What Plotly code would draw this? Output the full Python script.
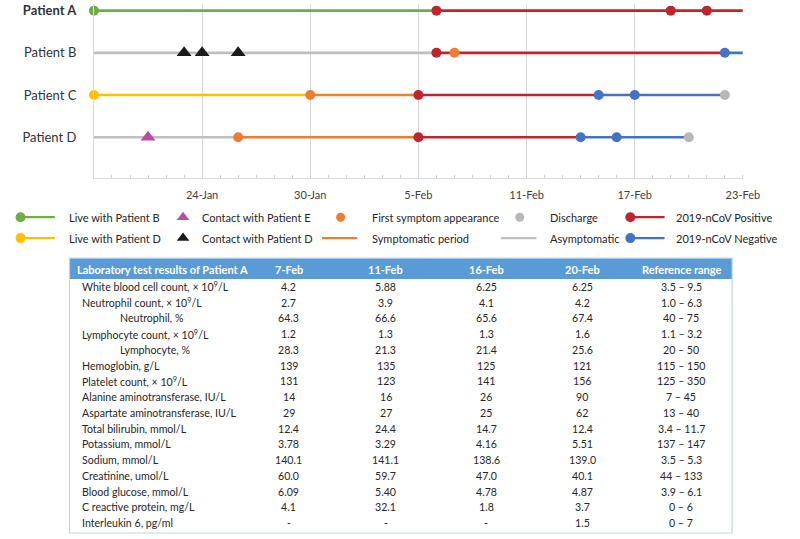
import plotly.graph_objects as go

# ---------------- timeline data ----------------
patients = ["Patient A", "Patient B", "Patient C", "Patient D"]
patient_labels = ["<b>Patient A</b>", "Patient B", "Patient C", "Patient D"]

seg_dates = {
    "Patient A": ["2020-01-18", "2020-02-06", "2020-02-23"],
    "Patient B": ["2020-01-18", "2020-02-06", "2020-02-22", "2020-02-23"],
    "Patient C": ["2020-01-18", "2020-01-30", "2020-02-05", "2020-02-15", "2020-02-22"],
    "Patient D": ["2020-01-18", "2020-01-26", "2020-02-05", "2020-02-14", "2020-02-20"],
}
seg_status = {
    "Patient A": ["liveB", "pos"],
    "Patient B": ["asym", "pos", "neg"],
    "Patient C": ["liveD", "symp", "pos", "neg"],
    "Patient D": ["asym", "symp", "pos", "neg"],
}
event_dates = {
    "Patient A": ["2020-01-18", "2020-02-06", "2020-02-19", "2020-02-21"],
    "Patient B": ["2020-01-23", "2020-01-24", "2020-01-26", "2020-02-06", "2020-02-07", "2020-02-22"],
    "Patient C": ["2020-01-18", "2020-01-30", "2020-02-05", "2020-02-15", "2020-02-17", "2020-02-22"],
    "Patient D": ["2020-01-21", "2020-01-26", "2020-02-05", "2020-02-14", "2020-02-16", "2020-02-20"],
}
event_types = {
    "Patient A": ["liveB", "pos", "pos", "pos"],
    "Patient B": ["contactD", "contactD", "contactD", "pos", "symp", "neg"],
    "Patient C": ["liveD", "symp", "pos", "neg", "neg", "discharge"],
    "Patient D": ["contactE", "symp", "pos", "neg", "neg", "discharge"],
}
tick_dates = ["2020-01-24", "2020-01-30", "2020-02-05", "2020-02-11", "2020-02-17", "2020-02-23"]
tick_labels = ["24-Jan", "30-Jan", "5-Feb", "11-Feb", "17-Feb", "23-Feb"]

legend_labels = ["Live with Patient B", "Live with Patient D",
                 "Contact with Patient E", "Contact with Patient D",
                 "First symptom appearance", "Symptomatic period",
                 "Discharge", "Asymptomatic",
                 "2019-nCoV Positive", "2019-nCoV Negative"]
legend_kinds = ["liveB", "liveD", "contactE", "contactD", "symp", "symp",
                "discharge", "asym", "pos", "neg"]

# ---------------- table data ----------------
table_title = "Laboratory test results of Patient A"
test_dates = ["7-Feb", "11-Feb", "16-Feb", "20-Feb"]
ref_title = "Reference range"
lab_tests = ["White blood cell count, × 10<sup>9</sup>/L", "Neutrophil count, × 10<sup>9</sup>/L",
             "Neutrophil, %", "Lymphocyte count, × 10<sup>9</sup>/L", "Lymphocyte, %",
             "Hemoglobin, g/L", "Platelet count, × 10<sup>9</sup>/L",
             "Alanine aminotransferase, IU/L", "Aspartate aminotransferase, IU/L",
             "Total bilirubin, mmol/L", "Potassium, mmol/L", "Sodium, mmol/L",
             "Creatinine, umol/L", "Blood glucose, mmol/L", "C reactive protein, mg/L",
             "Interleukin 6, pg/ml"]
sub_rows = ["Neutrophil, %", "Lymphocyte, %"]
feb7 = ["4.2", "2.7", "64.3", "1.2", "28.3", "139", "131", "14", "29", "12.4", "3.78", "140.1", "60.0", "6.09", "4.1", "-"]
feb11 = ["5.88", "3.9", "66.6", "1.3", "21.3", "135", "123", "16", "27", "24.4", "3.29", "141.1", "59.7", "5.40", "32.1", "-"]
feb16 = ["6.25", "4.1", "65.6", "1.3", "21.4", "125", "141", "26", "25", "14.7", "4.16", "138.6", "47.0", "4.78", "1.8", "-"]
feb20 = ["6.25", "4.2", "67.4", "1.6", "25.6", "121", "156", "90", "62", "12.4", "5.51", "139.0", "40.1", "4.87", "3.7", "1.5"]
ref_range = ["3.5 – 9.5", "1.0 – 6.3", "40 – 75", "1.1 – 3.2", "20 – 50", "115 – 150", "125 – 350",
             "7 – 45", "13 – 40", "3.4 – 11.7", "137 – 147", "3.5 – 5.3", "44 – 133", "3.9 – 6.1",
             "0 – 6", "0 – 7"]

# ---------------- styles ----------------
FONT = "Lato"
W, H = 800, 539
col = {"liveB": "#70AD47", "liveD": "#FFC000", "symp": "#ED7D31", "pos": "#C0252D",
       "neg": "#4472C4", "asym": "#BFBFBF", "discharge": "#B7B7B7",
       "contactD": "#1A1A1A", "contactE": "#B84DA6"}
sym = {"contactD": "triangle-up", "contactE": "triangle-up"}
ypos = {p: 4 - i for i, p in enumerate(patients)}


def px_x(v):
    return v / W


def px_y(v):
    return 1 - v / H


fig = go.Figure()

# segments
for p in patients:
    d = seg_dates[p]
    for i, s in enumerate(seg_status[p]):
        fig.add_trace(go.Scatter(x=[d[i], d[i + 1]], y=[ypos[p], ypos[p]], mode="lines",
                                 line=dict(color=col[s], width=2.6), hoverinfo="skip",
                                 showlegend=False, cliponaxis=False))
# events
for p in patients:
    for d, t in zip(event_dates[p], event_types[p]):
        tri = t in sym
        fig.add_trace(go.Scatter(x=[d], y=[ypos[p]], mode="markers",
                                 marker=dict(color=col[t], size=13 if tri else 10,
                                             symbol=sym.get(t, "circle"), line=dict(width=0)),
                                 showlegend=False, cliponaxis=False, hoverinfo="skip"))

# ---------------- custom legend (pixel axes x2/y2) ----------------
legend_cols_x = [18, 187, 329, 512, 641]
legend_rows_y = [216, 237]
legend_text_x = [68, 204, 378, 560, 689]
annotations = []
for i, (lab, kind) in enumerate(zip(legend_labels, legend_kinds)):
    c, r = divmod(i, 2)
    y = legend_rows_y[r]
    x0 = legend_cols_x[c]
    if c in (0, 4):  # line with dot at the left end
        fig.add_trace(go.Scatter(x=[x0, x0 + 38], y=[y, y], mode="lines", xaxis="x2", yaxis="y2",
                                 line=dict(color=col[kind], width=2.2), showlegend=False, hoverinfo="skip"))
        fig.add_trace(go.Scatter(x=[x0 + 3], y=[y], mode="markers", xaxis="x2", yaxis="y2",
                                 marker=dict(color=col[kind], size=10), showlegend=False, hoverinfo="skip"))
    elif c == 1:
        fig.add_trace(go.Scatter(x=[x0], y=[y], mode="markers", xaxis="x2", yaxis="y2",
                                 marker=dict(color=col[kind], size=11, symbol="triangle-up"),
                                 showlegend=False, hoverinfo="skip"))
    else:
        if r == 0:
            fig.add_trace(go.Scatter(x=[x0 + 19], y=[y], mode="markers", xaxis="x2", yaxis="y2",
                                     marker=dict(color=col[kind], size=9), showlegend=False, hoverinfo="skip"))
        else:
            fig.add_trace(go.Scatter(x=[x0, x0 + 36], y=[y, y], mode="lines", xaxis="x2", yaxis="y2",
                                     line=dict(color=col[kind], width=2.2), showlegend=False, hoverinfo="skip"))
    annotations.append(dict(text=lab, x=px_x(legend_text_x[c]), y=px_y(y), xref="paper", yref="paper",
                            xanchor="left", yanchor="middle", showarrow=False,
                            font=dict(family=FONT, size=11, color="#262626")))

# ---------------- table (drawn with shapes + annotations) ----------------
TBL_L, TBL_R, TBL_T, TBL_B, HDR_B = 71, 748, 257, 533, 278
hdr_y = 268
row0_y, row_step = 286, 15.8
col_centers = [295, 394, 497, 595, 696]
shapes = [
    dict(type="rect", xref="paper", yref="paper", x0=px_x(TBL_L), x1=px_x(TBL_R),
         y0=px_y(HDR_B), y1=px_y(TBL_T), line=dict(width=0), fillcolor="#5B9BD5", layer="below"),
    dict(type="rect", xref="paper", yref="paper", x0=px_x(TBL_L), x1=px_x(TBL_R),
         y0=px_y(TBL_B), y1=px_y(TBL_T), line=dict(color="#C5D3E2", width=1.2),
         fillcolor="rgba(0,0,0,0)", layer="above"),
]
hdr_font = dict(family=FONT, size=11, color="white")
cell_font = dict(family=FONT, size=10.6, color="#262626")
annotations.append(dict(text="<b>" + table_title + "</b>", x=px_x(77), y=px_y(hdr_y), xref="paper",
                        yref="paper", xanchor="left", yanchor="middle", showarrow=False, font=hdr_font))
for cx, lab in zip(col_centers, test_dates + [ref_title]):
    annotations.append(dict(text="<b>" + lab + "</b>", x=px_x(cx), y=px_y(hdr_y), xref="paper",
                            yref="paper", xanchor="center", yanchor="middle", showarrow=False,
                            font=hdr_font))
columns = [feb7, feb11, feb16, feb20, ref_range]
for i, t in enumerate(lab_tests):
    y = row0_y + i * row_step
    lx = 121 if t in sub_rows else 82
    annotations.append(dict(text=t, x=px_x(lx), y=px_y(y), xref="paper", yref="paper",
                            xanchor="left", yanchor="middle", showarrow=False, font=cell_font))
    for cx, vals in zip(col_centers, columns):
        annotations.append(dict(text=vals[i], x=px_x(cx), y=px_y(y), xref="paper", yref="paper",
                                xanchor="center", yanchor="middle", showarrow=False, font=cell_font))

fig.update_layout(
    width=W, height=H, margin=dict(l=0, r=0, t=0, b=0),
    paper_bgcolor="white", plot_bgcolor="rgba(0,0,0,0)",
    font=dict(family=FONT, color="#404040"),
    showlegend=False,
    xaxis=dict(type="date", domain=[px_x(96), px_x(759)], range=["2020-01-18", "2020-02-23"],
               tickvals=tick_dates, ticktext=tick_labels, ticks="", showgrid=True,
               gridcolor="#D9D9D9", gridwidth=1, showline=True, linecolor="#D9D9D9", linewidth=1,
               zeroline=False, tickfont=dict(family=FONT, size=11, color="#404040"),
               ticklabelstandoff=6,
               minor=dict(dtick=86400000, ticks="inside", ticklen=3, tickcolor="#D0D0D0",
                          tickwidth=1, showgrid=False)),
    yaxis=dict(domain=[px_y(177), px_y(2)], range=[0.024, 4.158], tickvals=[4, 3, 2, 1],
               ticktext=patient_labels, showgrid=False, zeroline=False, showline=True,
               linecolor="#D9D9D9", linewidth=1, ticks="", ticklabelstandoff=14,
               tickfont=dict(family=FONT, size=13, color="#333333")),
    xaxis2=dict(domain=[0, 1], range=[0, W], anchor="y2", visible=False, fixedrange=True),
    yaxis2=dict(domain=[0, 1], range=[H, 0], anchor="x2", visible=False, fixedrange=True),
    annotations=annotations,
    shapes=shapes,
)

fig.write_html("out.html", config={"displayModeBar": False},
               post_script="document.body.style.margin='0';document.body.style.overflow='hidden';")
